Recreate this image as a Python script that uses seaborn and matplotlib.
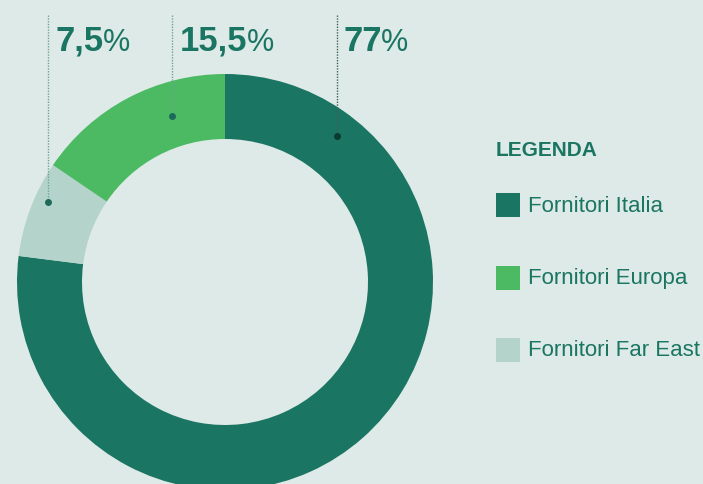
import matplotlib
matplotlib.use('Agg')
import matplotlib.pyplot as plt
from matplotlib.patches import Rectangle
import seaborn as sns

# data
categories = ['Fornitori Italia', 'Fornitori Far East', 'Fornitori Europa']
shares = [77, 7.5, 15.5]
share_labels = ['77', '7,5', '15,5']
legend_order = ['Fornitori Italia', 'Fornitori Europa', 'Fornitori Far East']

bg = '#deeae7'
dark = '#1b7563'
palette = {'Fornitori Italia': '#1b7563',
           'Fornitori Europa': '#4cb963',
           'Fornitori Far East': '#b3d3cb'}

sns.set_style('white')
plt.rcParams['font.family'] = ['Liberation Sans', 'DejaVu Sans']

fig = plt.figure(figsize=(7.03, 4.85), dpi=100, facecolor=bg)
ax = fig.add_axes([0, 0, 1, 1])
ax.set_facecolor(bg)

# donut
ax.pie(shares, colors=[palette[c] for c in categories], startangle=90,
       counterclock=False, radius=208, center=(225, 202),
       wedgeprops=dict(width=65, linewidth=0))
ax.set_xlim(0, 703)
ax.set_ylim(0, 485)
ax.set_aspect('equal')
ax.axis('off')

# labels with dotted leaders (layout: leader x, dot y, text x)
leaders = {'Fornitori Italia': (337, 348, 343, '#3f5f58', '#0b3a30'),
           'Fornitori Far East': (48, 282, 55, '#72a397', '#1b6a5a'),
           'Fornitori Europa': (172, 368, 180, '#72a397', '#1b6a5a')}
for cat, lab in zip(categories, share_labels):
    lx, dy, tx, lc, dc = leaders[cat]
    ax.plot([lx, lx], [469, dy], color=lc, lw=1, ls=(0, (1, 1)))
    ax.plot(lx, dy, 'o', color=dc, ms=5, mec='none')
    t = ax.text(tx, 434, lab, fontsize=25, fontweight='bold', color=dark,
                va='baseline', ha='left')
    ax.annotate('%', xy=(1, 0), xycoords=t, xytext=(-0.5, 0),
                textcoords='offset points', fontsize=22, color=dark,
                va='bottom', ha='left')

# legend
ax.text(496, 335, 'LEGENDA', fontsize=15, fontweight='bold', color=dark,
        va='center', ha='left')
for i, cat in enumerate(legend_order):
    yc = 279 - i * 72.5
    ax.add_patch(Rectangle((496, yc - 12), 24, 24, color=palette[cat], lw=0))
    ax.text(528, yc, cat, fontsize=16, color=dark, va='center', ha='left')

fig.savefig('out.png', dpi=100, facecolor=bg)
